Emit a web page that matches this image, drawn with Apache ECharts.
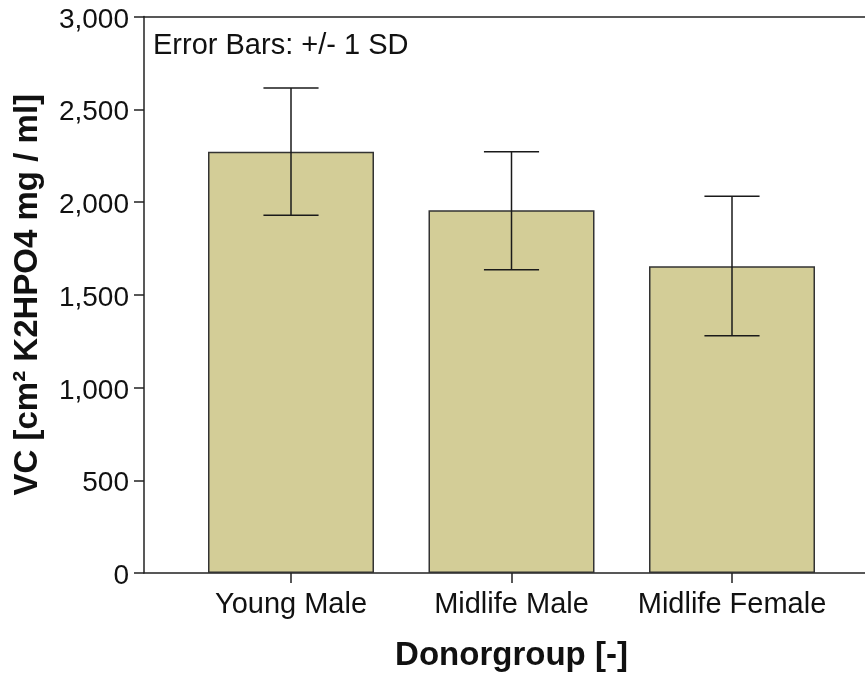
<!DOCTYPE html>
<html>
<head>
<meta charset="utf-8">
<script src="https://cdn.jsdelivr.net/npm/echarts@6/dist/echarts.min.js"></script>
<style>
  html, body { margin: 0; padding: 0; background: #ffffff; overflow: hidden; }
  #chart { width: 865px; height: 673px; }
</style>
</head>
<body>
<div id="chart"></div>
<script>
// Donor groups and their mean VC with +/- 1 SD limits
const categories = ['Young Male', 'Midlife Male', 'Midlife Female'];
const means = [2271, 1955, 1653];
const sdLower = [1928, 1635, 1279];
const sdUpper = [2615, 2271, 2031];
const yTicks = [0, 500, 1000, 1500, 2000, 2500, 3000];

const FONT = "'Liberation Sans', Arial, sans-serif";
const INK = '#222222';

const positions = categories.map((c, i) => i);
const barData = categories.map((c, i) => [i, means[i]]);
const errData = categories.map((c, i) => [i, sdLower[i], sdUpper[i]]);

const chart = echarts.init(document.getElementById('chart'), null, { renderer: 'canvas' });

chart.setOption({
  backgroundColor: '#ffffff',
  animation: false,
  // plot frame runs past the right edge of the page
  grid: { left: 144, width: 735, top: 16.5, bottom: 100, outerBoundsMode: 'none', containLabel: false },
  graphic: [{
    type: 'text',
    left: 153,
    top: 31,
    style: { text: 'Error Bars: +/- 1 SD', font: '29px ' + FONT, fill: '#111111' }
  }],
  xAxis: [{
    type: 'value',
    min: -2 / 3,
    max: 8 / 3,
    name: 'Donorgroup [-]',
    nameLocation: 'middle',
    nameGap: 66,
    nameTextStyle: { fontFamily: FONT, fontWeight: 'bold', fontSize: 33, color: '#111111' },
    axisLine: { show: true, onZero: false, lineStyle: { color: INK, width: 1.5 } },
    axisTick: { show: true, customValues: positions, length: 10, lineStyle: { color: INK, width: 1.5 } },
    axisLabel: {
      customValues: positions,
      formatter: v => categories[Math.round(v)] || '',
      fontFamily: FONT, fontSize: 29, color: '#111111', margin: 17
    },
    splitLine: { show: false }
  }, {
    type: 'value',
    position: 'top',
    min: -2 / 3,
    max: 8 / 3,
    axisLine: { show: true, onZero: false, lineStyle: { color: INK, width: 1.5 } },
    axisTick: { show: false },
    axisLabel: { show: false },
    splitLine: { show: false }
  }],
  yAxis: {
    type: 'value',
    min: 0,
    max: 3000,
    interval: 500,
    name: 'VC [cm² K2HPO4 mg / ml]',
    nameLocation: 'middle',
    nameRotate: 90,
    nameGap: 100,
    nameTextStyle: { fontFamily: FONT, fontWeight: 'bold', fontSize: 33, color: '#111111' },
    axisLine: { show: true, onZero: false, lineStyle: { color: INK, width: 1.5 } },
    axisTick: { show: true, length: 10, lineStyle: { color: INK, width: 1.5 } },
    axisLabel: {
      formatter: v => (yTicks.includes(v) ? '{t|' + v.toLocaleString('en-US') + '}' : ''),
      margin: 15,
      rich: {
        t: {
          fontFamily: FONT, fontSize: 28, color: '#111111',
          padding: [7, 0, 0, 0]
        }
      }
    },
    splitLine: { show: false }
  },
  series: [{
    type: 'bar',
    data: barData,
    barWidth: 166,
    itemStyle: { color: '#D3CD97', borderColor: '#333333', borderWidth: 1.5 },
    z: 2
  }, {
    type: 'custom',
    data: errData,
    z: 3,
    renderItem: function (params, api) {
      const x = api.value(0);
      const lo = api.coord([x, api.value(1)]);
      const hi = api.coord([x, api.value(2)]);
      const half = api.size([1, 0])[0] * 0.125;
      const style = { stroke: '#1a1a1a', lineWidth: 1.5 };
      return {
        type: 'group',
        children: [
          { type: 'line', shape: { x1: lo[0], y1: lo[1], x2: hi[0], y2: hi[1] }, style },
          { type: 'line', shape: { x1: hi[0] - half, y1: hi[1], x2: hi[0] + half, y2: hi[1] }, style },
          { type: 'line', shape: { x1: lo[0] - half, y1: lo[1], x2: lo[0] + half, y2: lo[1] }, style }
        ]
      };
    }
  }]
});
</script>
</body>
</html>
